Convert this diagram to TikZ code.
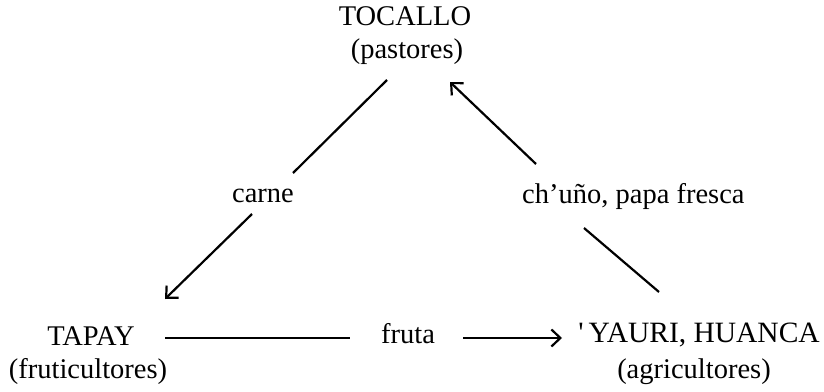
\documentclass[tikz,border=0pt]{standalone}
\usepackage{fontspec}
\setmainfont{Liberation Serif}
\usetikzlibrary{arrows.meta}
\begin{document}
\begin{tikzpicture}[x=1pt,y=-1pt,
  lbl/.style={inner sep=0pt,anchor=base,font=\fontsize{28.5}{33}\selectfont},
  conn/.style={line width=2.2pt},
  arr/.style={conn,-{Straight Barb[length=9pt,width=17pt,line width=2.2pt]}}]
\useasboundingbox (0,0) rectangle (824,391);
% nodes
\node[lbl] (toc) at (405,25) {TOCALLO};
\node[lbl] (pas) at (407,58) {(pastores)};
\node[lbl] (tap) at (91,345) {TAPAY};
\node[lbl] (fru) at (88,378) {(fruticultores)};
\node[lbl,anchor=base east,font=\fontsize{29.5}{33}\selectfont] (yau) at (820,342) {\textquotesingle\hspace{5pt}YAURI, HUANCA};
\node[lbl] (agr) at (694,378) {(agricultores)};
\node[lbl] (carne) at (263,202) {carne};
\node[lbl,anchor=base west] (chu) at (522,203) {ch’uño, papa fresca};
\node[lbl] (fruta) at (408,343) {fruta};
% connector points
\coordinate (a1) at (387,80);
\coordinate (a2) at (293,173);
\coordinate (a3) at (252,214);
\coordinate (a4) at (165,299);
\coordinate (b1) at (659,292);
\coordinate (b2) at (584,228);
\coordinate (b3) at (536,164);
\coordinate (b4) at (450,82);
\coordinate (c1) at (165,338);
\coordinate (c2) at (350,338);
\coordinate (c3) at (463,338);
\coordinate (c4) at (562,338);
% connectors
\draw[conn] (a1) -- (a2);
\draw[arr] (a3) -- (a4);
\draw[conn] (b1) -- (b2);
\draw[arr] (b3) -- (b4);
\draw[conn,line width=1.6pt] (c1) -- (c2);
\draw[arr,line width=1.6pt] (c3) -- (c4);
\end{tikzpicture}
\end{document}
